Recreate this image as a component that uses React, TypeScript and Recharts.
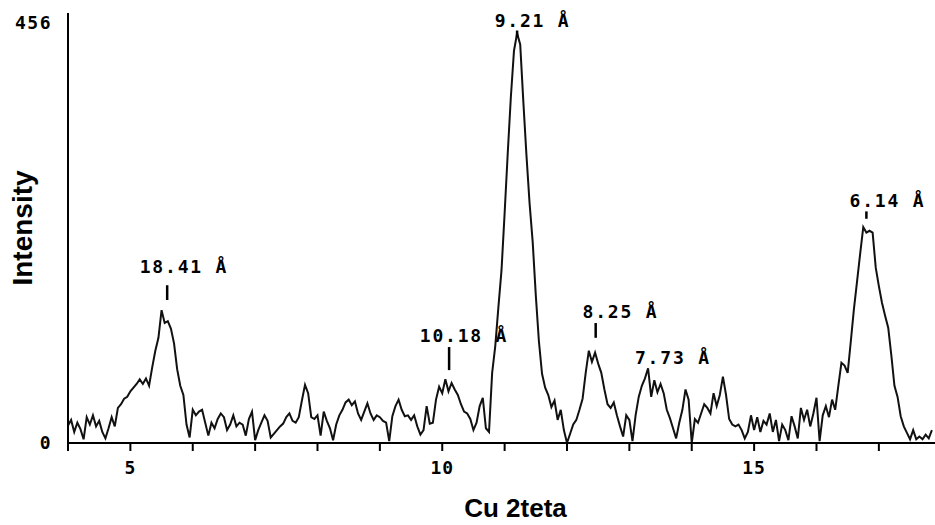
import React from 'react'
import {
  Label,
  Line,
  LineChart,
  ReferenceDot,
  ReferenceLine,
  XAxis,
  YAxis,
} from 'recharts'

// scan step in degrees 2theta
const step = 0.05

// start angle of each recorded stretch of the scan
const segmentStarts = [4.0, 6.15, 8.4, 10.8, 12.6, 14.9]

// counts, one value per step
const countsLow = [
  19, 25, 12, 22, 15, 4, 28, 20, 30, 18, 24, 12, 5, 16, 28, 18, 38, 42, 48, 50,
  56, 60, 64, 69, 64, 70, 62, 82, 100, 114, 144, 130, 132, 124, 108, 80, 62, 52,
  20, 6, 36, 30, 34,
]
const countsFlat = [
  36, 22, 8, 22, 16, 26, 32, 28, 14, 20, 30, 18, 22, 20, 8, 26, 34, 3, 14, 22,
  30, 24, 6, 10, 14, 18, 21, 28, 32, 24, 22, 28, 46, 63, 54, 28, 26, 30, 8, 34,
  24, 16, 3, 20, 30,
]
const countsMid = [
  36, 44, 47, 41, 45, 32, 25, 34, 43, 32, 25, 30, 28, 24, 22, 2, 29, 40, 47, 36,
  29, 30, 25, 30, 18, 9, 14, 40, 21, 22, 47, 61, 54, 69, 56, 65, 58, 52, 42, 34,
  32, 26, 14, 22, 40, 49, 16, 12,
]
const countsMain = [
  76, 105, 147, 187, 249, 314, 375, 425, 444, 432, 370, 312, 260, 218, 160, 110,
  75, 60, 52, 39, 46, 25, 36, 14, 0, 10, 20, 25, 36, 48, 76, 100, 88, 98, 86, 76,
]
const countsShoulder = [
  58, 42, 38, 44, 30, 18, 7, 30, 25, 2, 30, 50, 62, 70, 81, 50, 68, 55, 64, 54,
  36, 27, 16, 5, 22, 36, 58, 47, 0, 26, 22, 32, 42, 38, 32, 54, 40, 52, 72, 52,
  26, 20, 18, 20, 14, 5,
]
const countsHigh = [
  12, 30, 14, 28, 12, 24, 20, 32, 12, 25, 2, 20, 14, 3, 29, 18, 5, 38, 25, 36,
  18, 32, 49, 2, 30, 40, 28, 47, 36, 62, 87, 84, 76, 110, 145, 175, 205, 234,
  228, 230, 228, 190, 170, 152, 138, 125, 95, 62, 50, 29, 18, 11, 4, 14, 4, 7,
  4, 9, 5, 14,
]

const segments = [countsLow, countsFlat, countsMid, countsMain, countsShoulder, countsHigh]

const xTicks = [4, 5, 6, 7, 8, 9, 10, 11, 12, 13, 14, 15, 16, 17]
const xLabelled = [5, 10, 15]
const yTicks = [0, 456]

// peak annotations (d-spacings)
const peakLabels = ['18.41 Å', '9.21 Å', '10.18 Å', '8.25 Å', '7.73 Å', '6.14 Å']
const peakTextAt = [5.15, 10.84, 9.64, 12.25, 13.09, 16.53]
const peakTextLevel = [191, 458, 117, 142, 93, 263]
const peakMarkAt = [5.59, 11.2, 10.11, 12.46, null, 16.8]
const peakMarkFrom = [155, 440, 79, 114, null, 243]
const peakMarkTo = [171, 447, 104, 130, null, 251]

const data = segments.flatMap((counts, s) =>
  counts.map((c, i) => ({
    angle: Math.round((segmentStarts[s] + i * step) * 100) / 100,
    counts: c,
  }))
)

const mono = '"DejaVu Sans Mono", monospace'
const sans = '"Liberation Sans", Arial, sans-serif'

const XTick = ({ x, y, payload }: any) => {
  if (!xLabelled.includes(payload.value)) return <g />
  return (
    <text
      x={x}
      y={y}
      dy="0.71em"
      textAnchor="middle"
      fontFamily={mono}
      fontWeight="bold"
      fontSize={18}
      letterSpacing={1}
      fill="#000"
    >
      {payload.value}
    </text>
  )
}

const YTick = ({ x, y, payload }: any) => (
  <text
    x={x}
    y={y}
    dy="0.36em"
    textAnchor="end"
    fontFamily={mono}
    fontWeight="bold"
    fontSize={18}
    letterSpacing={1.5}
    fill="#000"
  >
    {payload.value}
  </text>
)

const PeakText = (label: string) => (props: any) => (
  <text
    x={props.cx}
    y={props.cy}
    dy="0.36em"
    textAnchor="start"
    fontFamily={mono}
    fontWeight="bold"
    fontSize={18}
    letterSpacing={1.8}
    fill="#000"
  >
    {label}
  </text>
)

export default function App() {
  return (
    <div style={{ position: 'absolute', left: 0, top: 0, background: '#fff' }}>
      <LineChart
        width={935}
        height={525}
        data={data}
        margin={{ top: 13, right: 0, bottom: 0, left: 0 }}
      >
        <XAxis
          dataKey="angle"
          type="number"
          domain={[4, 17.9]}
          ticks={xTicks}
          allowDataOverflow
          height={82}
          axisLine={{ stroke: '#000', strokeWidth: 2 }}
          tickLine={{ stroke: '#000', strokeWidth: 2 }}
          tickSize={8}
          tickMargin={10}
          tick={<XTick />}
        >
          <Label
            content={(p: any) => (
              <text
                x={p.viewBox.x + p.viewBox.width / 2 + 14}
                y={p.viewBox.y + 65}
                dy="0.36em"
                textAnchor="middle"
                fontFamily={sans}
                fontWeight="bold"
                fontSize={26}
                fill="#000"
              >
                Cu 2teta
              </text>
            )}
          />
        </XAxis>
        <YAxis
          type="number"
          domain={[0, 466]}
          ticks={yTicks}
          width={68}
          axisLine={{ stroke: '#000', strokeWidth: 2 }}
          tickLine={false}
          tickSize={0}
          tickMargin={16}
          tick={<YTick />}
        >
          <Label
            content={(p: any) => {
              const cx = p.viewBox.x + 22
              const cy = p.viewBox.y + p.viewBox.height / 2
              return (
                <text
                  x={cx}
                  y={cy}
                  dy="0.36em"
                  transform={`rotate(-90 ${cx} ${cy})`}
                  textAnchor="middle"
                  fontFamily={sans}
                  fontWeight="bold"
                  fontSize={28}
                  fill="#000"
                >
                  Intensity
                </text>
              )
            }}
          />
        </YAxis>
        <Line
          type="linear"
          dataKey="counts"
          stroke="#111"
          strokeWidth={2}
          dot={false}
          isAnimationActive={false}
        />
        {peakMarkAt.map((at, i) =>
          at === null ? null : (
            <ReferenceLine
              key={`mark-${i}`}
              segment={[
                { x: at, y: peakMarkFrom[i] as number },
                { x: at, y: peakMarkTo[i] as number },
              ]}
              stroke="#000"
              strokeWidth={2.5}
            />
          )
        )}
        {peakLabels.map((label, i) => (
          <ReferenceDot
            key={`peak-${i}`}
            x={peakTextAt[i]}
            y={peakTextLevel[i]}
            r={0}
            shape={PeakText(label)}
          />
        ))}
      </LineChart>
    </div>
  )
}
